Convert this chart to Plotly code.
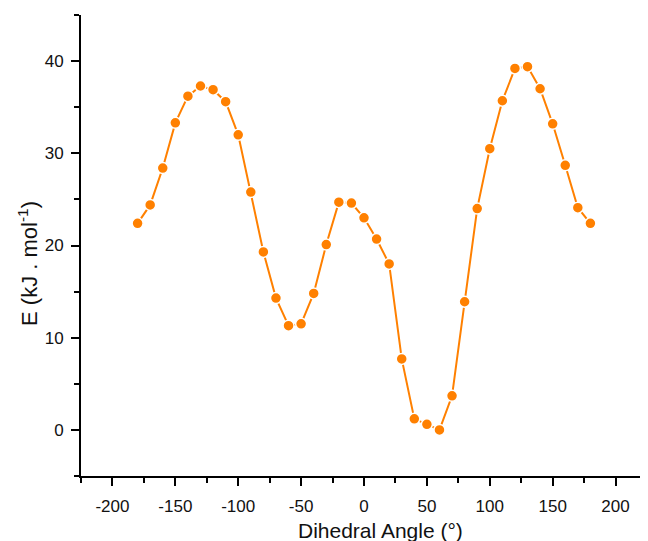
import plotly.graph_objects as go

angles = [-180, -170, -160, -150, -140, -130, -120, -110, -100, -90, -80, -70, -60,
          -50, -40, -30, -20, -10, 0, 10, 20, 30, 40, 50, 60, 70, 80, 90, 100, 110,
          120, 130, 140, 150, 160, 170, 180]
energy = [22.4, 24.4, 28.4, 33.3, 36.2, 37.3, 36.9, 35.6, 32.0, 25.8, 19.3, 14.3, 11.3,
          11.5, 14.8, 20.1, 24.7, 24.6, 23.0, 20.7, 18.0, 7.7, 1.2, 0.6, 0.0, 3.7, 13.9,
          24.0, 30.5, 35.7, 39.2, 39.4, 37.0, 33.2, 28.7, 24.1, 22.4]

x_ticks = [-200, -150, -100, -50, 0, 50, 100, 150, 200]
x_tick_labels = ["-200", "-150", "-100", "-50", "0", "50", "100", "150", "200"]
y_ticks = [0, 10, 20, 30, 40]
y_tick_labels = ["0", "10", "20", "30", "40"]

orange = "#FF8000"
font_family = "Liberation Sans, Arial, sans-serif"

fig = go.Figure()
fig.add_trace(go.Scatter(
    x=angles, y=energy, mode="lines+markers",
    line=dict(color=orange, width=2),
    marker=dict(color=orange, size=11, line=dict(color="white", width=1.5)),
    showlegend=False,
))

axis_common = dict(
    showline=True, linecolor="black", linewidth=2,
    ticks="outside", ticklen=8, tickwidth=2, tickcolor="black",
    showgrid=False, zeroline=False,
    tickfont=dict(family=font_family, size=17, color="#111"),
)

fig.update_xaxes(range=[-225, 225], tickvals=x_ticks, ticktext=x_tick_labels,
                 minor=dict(ticks="outside", ticklen=5, tickwidth=2, tickcolor="black", dtick=25, tick0=-225),
                 ticklabelstandoff=6,
                 **axis_common)
fig.update_yaxes(range=[-5, 45], tickvals=y_ticks, ticktext=y_tick_labels,
                 minor=dict(ticks="outside", ticklen=5, tickwidth=2, tickcolor="black", dtick=10, tick0=-5),
                 ticklabelstandoff=4,
                 **axis_common)

fig.add_annotation(text="Dihedral Angle (°)", xref="paper", yref="paper",
                   x=0.53, y=0, yshift=-54, xanchor="center", yanchor="middle",
                   showarrow=False, font=dict(family=font_family, size=21, color="#111"))
fig.add_annotation(text="E (kJ . mol<sup>-1</sup>)", xref="paper", yref="paper",
                   x=0, xshift=-53, y=0.46, xanchor="center", yanchor="middle",
                   textangle=-90, showarrow=False,
                   font=dict(family=font_family, size=22, color="#111"))

# the page body adds an 8px offset; the figure is sized to fill the rest of the window
fig.update_layout(
    width=640, height=533,
    margin=dict(l=73, r=1, t=7, b=65),
    plot_bgcolor="white", paper_bgcolor="white",
)

fig.write_html("out.html")
